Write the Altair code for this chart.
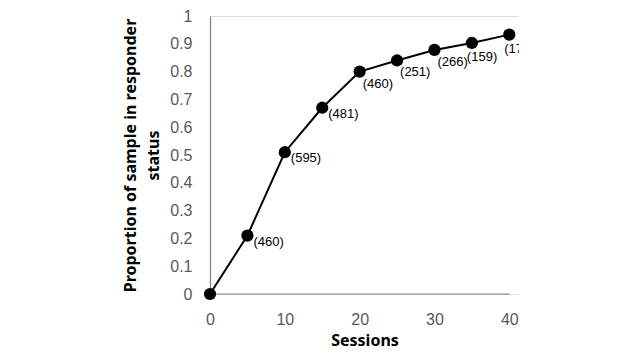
import altair as alt
import pandas as pd

sessions = [0, 5, 10, 15, 20, 25, 30, 35, 40]
proportion = [0.0, 0.21, 0.51, 0.67, 0.80, 0.84, 0.878, 0.903, 0.933]
labels = ["", "(460)", "(595)", "(481)", "(460)", "(251)", "(266)", "(159)", "(17)"]
x_ticks = [0, 10, 20, 30, 40]
y_ticks = [0, 0.1, 0.2, 0.3, 0.4, 0.5, 0.6, 0.7, 0.8, 0.9, 1.0]

df = pd.DataFrame({"sessions": sessions, "proportion": proportion, "label": labels})
axis_df = pd.DataFrame({"sessions": [0], "x1": [40], "proportion": [0]})

xscale = alt.Scale(domain=[0, 41.3], nice=False, zero=False)
yscale = alt.Scale(domain=[0, 1], nice=False)

xaxis = alt.Axis(values=x_ticks, grid=False, ticks=False, domain=False,
                 labelFlush=False, labelOverlap=False,
                 labelFont="Liberation Sans", labelFontSize=16, labelColor="#595959",
                 labelPadding=17, title="Sessions", titleFont="Noto Sans",
                 titleFontSize=16, titleFontWeight="bold", titleColor="#000000",
                 titlePadding=5)
yaxis = alt.Axis(values=y_ticks, grid=False, ticks=False,
                 labelFlush=False, labelOverlap=False,
                 domainColor="#7f7f7f", domainWidth=1.2,
                 labelFont="Liberation Sans", labelFontSize=16, labelColor="#595959",
                 labelPadding=18,
                 labelExpr="datum.value == 0 ? '0' : datum.value == 1 ? '1' : format(datum.value, '.1f')",
                 title=["Proportion of sample in responder", "status"],
                 titleFont="Noto Sans", titleFontSize=16, titleFontWeight="bold",
                 titleColor="#000000", titlePadding=8, titleLineHeight=23)

X = alt.X("sessions:Q", scale=xscale, axis=xaxis)
Y = alt.Y("proportion:Q", scale=yscale, axis=yaxis)

base = alt.Chart(df)

xline = alt.Chart(axis_df).mark_rule(color="#7f7f7f", strokeWidth=1.2).encode(
    x=X, x2="x1:Q", y=Y,
)

line = base.mark_line(color="#000000", strokeWidth=2).encode(x=X, y=Y)
points = base.mark_circle(color="#000000", size=150, opacity=1).encode(x=X, y=Y)

def labels_layer(lo, hi, dx, dy):
    return base.transform_filter(
        (alt.datum.sessions >= lo) & (alt.datum.sessions <= hi)
    ).mark_text(align="left", baseline="middle", dx=dx, dy=dy, fontSize=13,
                font="Liberation Sans", color="#000000", clip=True).encode(
        x=X, y=Y, text="label:N")

text1 = labels_layer(5, 15, 6, 6)
text2 = labels_layer(20, 30, 3, 12)
text3 = labels_layer(35, 40, -5, 14)

chart = alt.layer(xline, line, points, text1, text2, text3).properties(
    width=309, height=278,
    autosize=alt.AutoSizeParams(type="none"),
    padding={"left": 202, "top": 8, "right": 0, "bottom": 58},
).configure_view(stroke=None).configure(background="#ffffff")

chart.save("out.html", embed_options={"renderer": "svg", "actions": False})
